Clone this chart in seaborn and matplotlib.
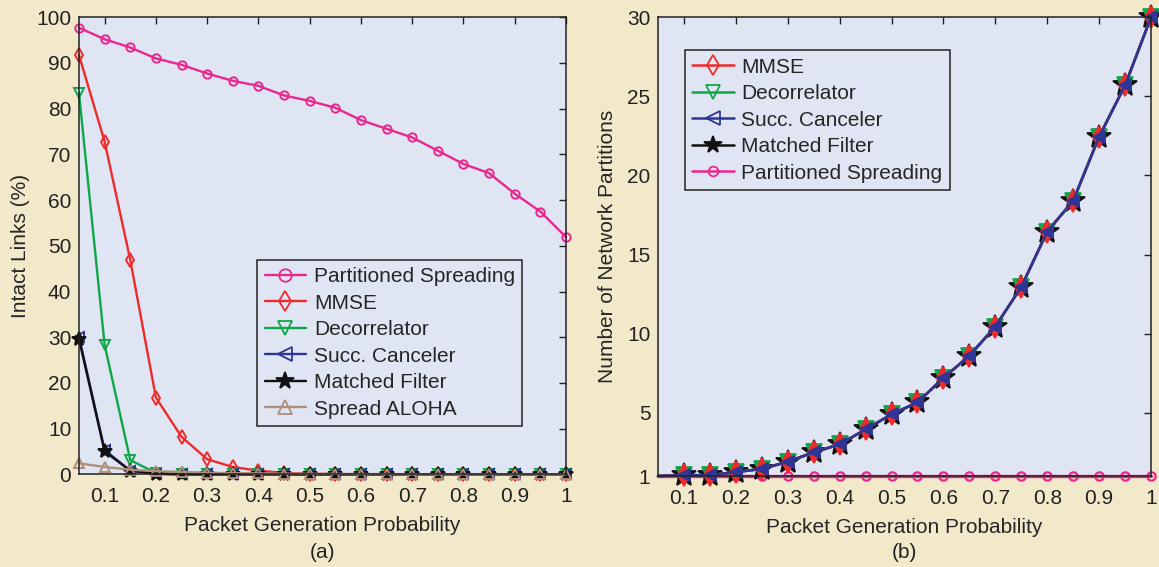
import numpy as np
import pandas as pd
import matplotlib
matplotlib.use("Agg")
import matplotlib.pyplot as plt
from matplotlib.lines import Line2D
import seaborn as sns

# ---------------- data ----------------
p_gen = [0.05, 0.10, 0.15, 0.20, 0.25, 0.30, 0.35, 0.40, 0.45, 0.50,
         0.55, 0.60, 0.65, 0.70, 0.75, 0.80, 0.85, 0.90, 0.95, 1.00]

# panel (a): intact links (%)
a_partitioned = [97.7, 95.2, 93.4, 91.0, 89.6, 87.7, 86.1, 85.0, 82.9, 81.7,
                 80.2, 77.5, 75.6, 73.7, 70.8, 67.9, 65.9, 61.4, 57.5, 51.9]
a_mmse = [91.7, 72.8, 46.9, 16.8, 8.2, 3.3, 1.6, 0.8, 0.3, 0.1,
          0.05, 0.0, 0.0, 0.0, 0.0, 0.0, 0.0, 0.0, 0.0, 0.0]
a_decorr = [83.4, 28.3, 3.1, 0.3, 0.05, 0.0, 0.0, 0.0, 0.0, 0.0,
            0.0, 0.0, 0.0, 0.0, 0.0, 0.0, 0.0, 0.0, 0.0, 0.0]
a_succ = [30.1, 5.3, 0.8, 0.1, 0.0, 0.0, 0.0, 0.0, 0.0, 0.0,
          0.0, 0.0, 0.0, 0.0, 0.0, 0.0, 0.0, 0.0, 0.0, 0.0]
a_matched = [29.6, 5.0, 0.8, 0.1, 0.0, 0.0, 0.0, 0.0, 0.0, 0.0,
             0.0, 0.0, 0.0, 0.0, 0.0, 0.0, 0.0, 0.0, 0.0, 0.0]
a_aloha = [2.4, 1.6, 1.0, 0.7, 0.5, 0.35, 0.25, 0.2, 0.15, 0.1,
           0.1, 0.05, 0.05, 0.0, 0.0, 0.0, 0.0, 0.0, 0.0, 0.0]

# panel (b): number of network partitions
b_mmse = [1.0, 1.05, 1.05, 1.25, 1.45, 1.9, 2.5, 3.0, 3.95, 4.9,
          5.65, 7.2, 8.6, 10.45, 12.95, 16.45, 18.4, 22.45, 25.7, 30.0]
b_decorr = [1.0, 1.05, 1.05, 1.25, 1.45, 1.9, 2.5, 3.0, 3.95, 4.9,
            5.65, 7.2, 8.6, 10.45, 12.95, 16.45, 18.4, 22.45, 25.7, 30.0]
b_succ = [1.0, 1.05, 1.05, 1.25, 1.45, 1.9, 2.5, 3.0, 3.95, 4.9,
          5.65, 7.2, 8.6, 10.45, 12.95, 16.45, 18.4, 22.45, 25.7, 30.0]
b_matched = [1.0, 1.05, 1.05, 1.25, 1.45, 1.9, 2.5, 3.0, 3.95, 4.9,
             5.65, 7.2, 8.6, 10.45, 12.95, 16.45, 18.4, 22.45, 25.7, 30.0]
b_partitioned = [1.0, 1.0, 1.0, 1.0, 1.0, 1.0, 1.0, 1.0, 1.0, 1.0,
                 1.0, 1.0, 1.0, 1.0, 1.0, 1.0, 1.0, 1.0, 1.0, 1.0]

x_ticks = [0.1, 0.2, 0.3, 0.4, 0.5, 0.6, 0.7, 0.8, 0.9, 1.0]
x_tick_labels = ["0.1", "0.2", "0.3", "0.4", "0.5", "0.6", "0.7", "0.8", "0.9", "1"]
a_y_ticks = [0, 10, 20, 30, 40, 50, 60, 70, 80, 90, 100]
b_y_ticks = [1, 5, 10, 15, 20, 25, 30]

# ---------------- style ----------------
sns.set_theme(style="white")
plt.rcParams["font.family"] = ["Liberation Sans", "DejaVu Sans"]

BG = "#F2E8CA"
AXBG = "#DFE5F2"
PINK = "#E8288E"
RED = "#EE2B2B"
GREEN = "#10A64A"
BLUE = "#2E3595"
BLACK = "#111111"
BROWN = "#B08E7C"
FS = 15

fig = plt.figure(figsize=(11.59, 5.67), dpi=100, facecolor=BG)
axa = fig.add_axes([79 / 1159, 92.7 / 567, 487 / 1159, 457 / 567])
axb = fig.add_axes([658 / 1159, 91 / 567, 493 / 1159, 458.7 / 567])

# ---------------- panel (a) ----------------
series_a = [
    ("Partitioned Spreading", a_partitioned, PINK, "o", 6),
    ("MMSE", a_mmse, RED, "d", 7),
    ("Decorrelator", a_decorr, GREEN, "v", 7),
    ("Succ. Canceler", a_succ, BLUE, "<", 7),
    ("Matched Filter", a_matched, BLACK, "*", 10),
    ("Spread ALOHA", a_aloha, BROWN, "^", 7),
]
handles_a = []
for name, vals, col, mk, ms in series_a:
    df = pd.DataFrame({"p": p_gen, "v": vals})
    filled = mk == "*"
    sns.lineplot(data=df, x="p", y="v", ax=axa, color=col, linewidth=1.7,
                 marker=mk, markersize=ms, markeredgewidth=1.4,
                 markeredgecolor=col, markerfacecolor=col if filled else "none",
                 clip_on=False, legend=False)
    handles_a.append(Line2D([], [], color=col, linewidth=1.7, marker=mk,
                            markersize=ms + 3, markeredgewidth=1.3,
                            markeredgecolor=col,
                            markerfacecolor=col if filled else "none",
                            label=name))

axa.set_xlim(0.05, 1.0)
axa.set_ylim(0, 100)
axa.set_yticks(a_y_ticks)
axa.set_ylabel("Intact Links (%)", fontsize=FS, labelpad=4.5)
axa.legend(handles=handles_a, loc="upper left",
           bbox_to_anchor=(0.366, 0.469), borderaxespad=0, fontsize=FS,
           frameon=True, fancybox=False, handlelength=2.0,
           handletextpad=0.37, borderpad=0.35, labelspacing=0.36)

# ---------------- panel (b) ----------------
series_b = [
    ("Partitioned Spreading", b_partitioned, PINK, "o", 6, False, 2.4),
    ("Matched Filter", b_matched, BLACK, "*", 18, True, 1.8),
    ("Decorrelator", b_decorr, GREEN, "v", 11, True, 1.8),
    ("MMSE", b_mmse, RED, "d", 11, True, 1.8),
    ("Succ. Canceler", b_succ, BLUE, "<", 8, True, 1.9),
]
for name, vals, col, mk, ms, filled, lw in series_b:
    df = pd.DataFrame({"p": p_gen, "v": vals})
    sns.lineplot(data=df, x="p", y="v", ax=axb, color=col, linewidth=lw,
                 marker=mk, markersize=ms, markeredgewidth=1.6 if mk == "o" else 1.3,
                 markeredgecolor=col, markerfacecolor=col if filled else "none",
                 markevery=list(range(1, len(p_gen))),
                 clip_on=False, legend=False)

legend_b = [
    ("MMSE", RED, "d", False),
    ("Decorrelator", GREEN, "v", False),
    ("Succ. Canceler", BLUE, "<", False),
    ("Matched Filter", BLACK, "*", True),
    ("Partitioned Spreading", PINK, "o", False),
]
handles_b = [Line2D([], [], color=c, linewidth=1.8, marker=m,
                    markersize=13 if m == "*" else (7 if m == "o" else 10),
                    markeredgewidth=1.3,
                    markeredgecolor=c, markerfacecolor=c if f else "none",
                    label=n) for n, c, m, f in legend_b]
axb.set_xlim(0.05, 1.0)
axb.set_ylim(1, 30)
axb.set_yticks(b_y_ticks)
axb.set_ylabel("Number of Network Partitions", fontsize=FS, labelpad=7)
axb.legend(handles=handles_b, loc="upper left", bbox_to_anchor=(0.054, 0.928),
           borderaxespad=0, fontsize=FS, frameon=True, fancybox=False,
           handlelength=2.0, handletextpad=0.37, borderpad=0.35,
           labelspacing=0.36)

# ---------------- common axes styling ----------------
for ax in (axa, axb):
    ax.set_facecolor(AXBG)
    ax.set_xticks(x_ticks)
    ax.set_xticklabels(x_tick_labels)
    ax.set_xlabel("Packet Generation Probability", fontsize=FS)
    ax.tick_params(axis="both", which="both", direction="in", length=5,
                   width=1, colors="#222222", labelsize=FS,
                   top=True, right=True, labelcolor="#222222")
    ax.tick_params(axis="x", pad=9.5)
    ax.tick_params(axis="y", pad=5.5)
    for sp in ax.spines.values():
        sp.set_visible(True)
        sp.set_color("#222222")
        sp.set_linewidth(1.1)
    leg = ax.get_legend()
    leg.get_frame().set_edgecolor("#222222")
    leg.get_frame().set_facecolor(AXBG)
    leg.get_frame().set_linewidth(1.1)
    leg.get_frame().set_alpha(1.0)

axa.xaxis.set_label_coords(0.5, -0.092)
axb.xaxis.set_label_coords(0.5, -0.092)

fig.text(322.5 / 1159, 1 - 553 / 567, "(a)", ha="center", va="center",
         fontsize=FS, color="#222222")
fig.text(904 / 1159, 1 - 553 / 567, "(b)", ha="center", va="center",
         fontsize=FS, color="#222222")

fig.savefig("out.png", dpi=100, facecolor=BG)
